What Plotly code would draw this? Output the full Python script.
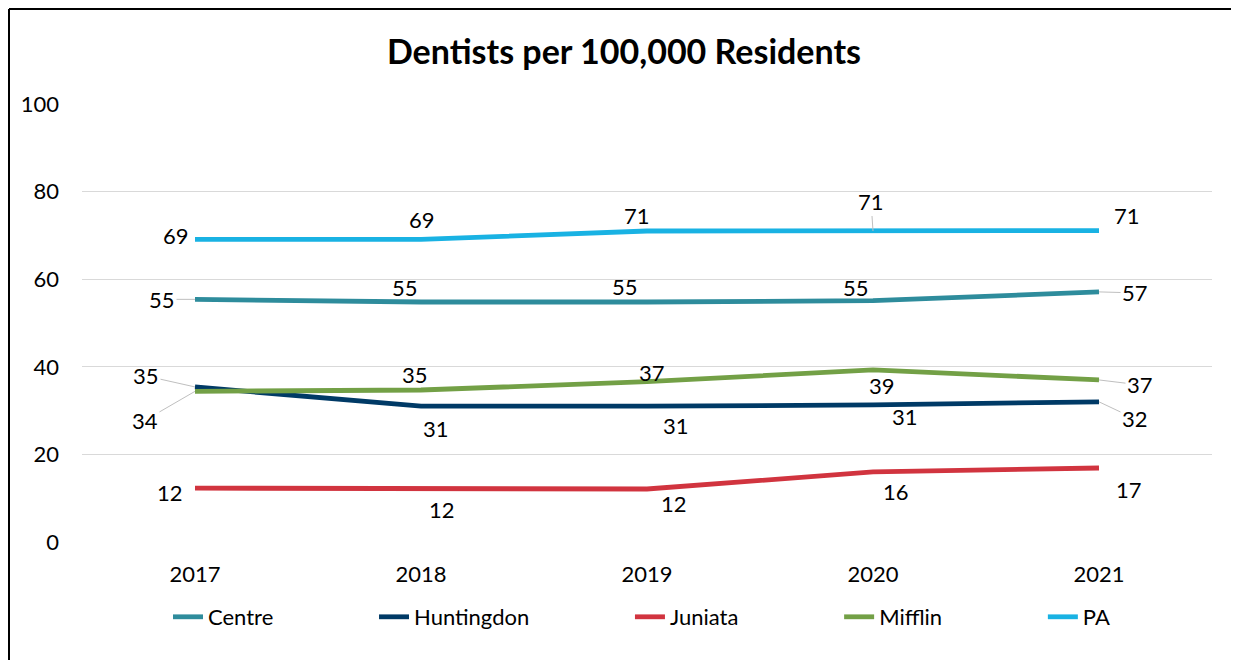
import plotly.graph_objects as go

years = ["2017", "2018", "2019", "2020", "2021"]
centre = [55.4, 54.8, 54.8, 55.1, 57.1]
huntingdon = [35.4, 31.0, 31.0, 31.3, 32.0]
juniata = [12.3, 12.1, 12.1, 16.0, 16.9]
mifflin = [34.4, 34.7, 36.6, 39.3, 37.0]
pa = [69.1, 69.1, 71.0, 71.0, 71.1]

series = [
    ("Centre", centre, "#2E8C9C"),
    ("Huntingdon", huntingdon, "#003A66"),
    ("Juniata", juniata, "#D1343F"),
    ("Mifflin", mifflin, "#73A046"),
    ("PA", pa, "#19B2E3"),
]

# label placement (dx, dy in screen px; leader=True draws a thin leader line)
label_pos = {
    "Centre": [(-33, 0, True), (-16, -14, False), (-22, -15, False), (-17, -13, False), (36, 1, True)],
    "Huntingdon": [(-49, -11, True), (15, 22, False), (29, 19, False), (32, 12, False), (36, 17, True)],
    "Juniata": [(-25, 4, False), (21, 20, False), (27, 14, False), (23, 20, False), (30, 22, False)],
    "Mifflin": [(-50, 29, True), (-6, -16, False), (5, -9, False), (9, 16, False), (41, 5, True)],
    "PA": [(-19, -4, False), (1, -20, False), (-10, -16, False), (-2, -30, True), (28, -15, False)],
}

FONT = "Lato"
FS = 22
OFF = 8  # page body margin offset
W, H = 1239 - OFF, 660 - OFF
L, R, T, B = 82 - OFF, 27, 104 - OFF, 118
pw, ph = W - L - R, H - T - B


def px_x(p):
    return (p - OFF - L) / pw


def px_y(p):
    return (H - B - (p - OFF)) / ph


fig = go.Figure()
for name, vals, color in series:
    pad = "" if name == "PA" else "\u00a0" * 17
    fig.add_trace(go.Scatter(
        x=years, y=vals, mode="lines", name=name + pad,
        line=dict(color=color, width=4.8), cliponaxis=False,
    ))

for name, vals, color in series:
    for i, (yr, v) in enumerate(zip(years, vals)):
        dx, dy, leader = label_pos[name][i]
        txt = str(int(round(v)))
        if leader:
            fig.add_annotation(
                x=i, y=v, xref="x", yref="y", text=txt, showarrow=True,
                ax=dx, ay=dy, arrowhead=0, arrowwidth=1, arrowcolor="#BFBFBF",
                font=dict(family=FONT, size=FS, color="#000000"),
            )
        else:
            fig.add_annotation(
                x=i, y=v, xref="x", yref="y", text=txt, showarrow=False,
                xshift=dx, yshift=-dy,
                font=dict(family=FONT, size=FS, color="#000000"),
            )

# frame: left and top edges of the chart box
fx0 = (1 - L) / pw
fy_top = (H - B - 1) / ph
fig.add_shape(type="line", xref="paper", yref="paper", x0=fx0, x1=fx0,
              y0=(H - B - H) / ph, y1=fy_top, line=dict(color="#000000", width=2))
fig.add_shape(type="line", xref="paper", yref="paper", x0=fx0, x1=(W - L) / pw,
              y0=fy_top, y1=fy_top, line=dict(color="#000000", width=2))

fig.update_layout(
    width=W, height=H,
    margin=dict(l=L, r=R, t=T, b=B),
    paper_bgcolor="white", plot_bgcolor="white",
    font=dict(family=FONT, size=FS, color="#000000"),
    title=dict(text="<b>Dentists per 100,000 Residents</b>",
               x=px_x(624), xref="paper", xanchor="center",
               y=1 - (52 - OFF) / H, yref="container", yanchor="middle",
               font=dict(family=FONT, size=34, color="#000000")),
    xaxis=dict(type="category", range=[-0.5, 4.5], showgrid=False, showline=False,
               zeroline=False, ticks="", ticklabelstandoff=17,
               tickfont=dict(family=FONT, size=FS, color="#000000")),
    yaxis=dict(range=[0, 100], dtick=20, showgrid=True, gridcolor="#D9D9D9", gridwidth=1.3,
               zeroline=False, showline=False, ticks="", ticklabelstandoff=22,
               tickfont=dict(family=FONT, size=FS, color="#000000")),
    legend=dict(orientation="h", x=px_x(168), xanchor="left", y=px_y(617), yanchor="middle",
                font=dict(family=FONT, size=FS, color="#000000"),
                bgcolor="rgba(0,0,0,0)"),
)

fig.write_html(
    "out.html",
    post_script="document.documentElement.style.overflow='hidden';document.body.style.overflow='hidden';",
)
